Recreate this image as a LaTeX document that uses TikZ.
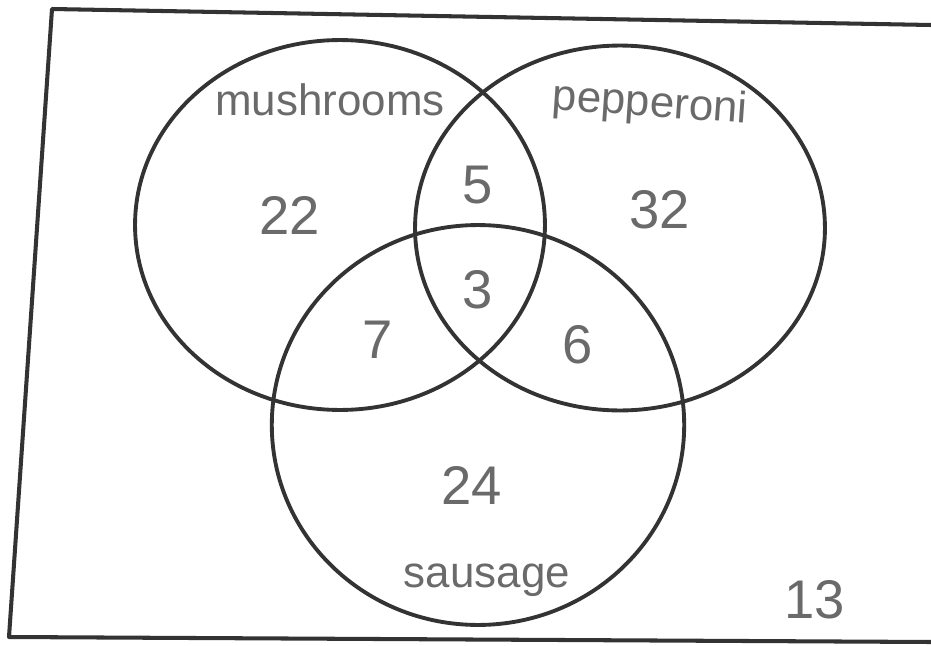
\documentclass[tikz,border=0pt]{standalone}
\usepackage{fontspec}
\setmainfont{Liberation Sans}
\usepackage{tikz}
\usetikzlibrary{shapes.geometric}
\definecolor{penInk}{HTML}{333333}
\definecolor{pencilGray}{HTML}{6A6A6A}
\tikzset{
    set_ring/.style={
        ellipse, draw=penInk, line width=2.2pt, inner sep=0pt, fill=none
    },
    set_name/.style={
        font=\fontsize{25}{27}\selectfont, text=pencilGray, inner sep=0pt
    },
    count_lbl/.style={
        font=\fontsize{31}{33}\selectfont, text=pencilGray, inner sep=0pt
    }
}
\begin{document}
\begin{tikzpicture}[x=0.02cm, y=-0.02cm]
    \useasboundingbox (0,0) rectangle (931,646);

    % frame
    \draw[penInk, line width=2.3pt, line join=round] (931,25) -- (52,9) -- (9,637) -- (931,642);

    % sets
    \node[set_ring, minimum width=8.2cm, minimum height=7.4cm] (mush) at (340,225) {};
    \node[set_ring, minimum width=8.2cm, minimum height=7.3cm] (pepp) at (620,228) {};
    \node[set_ring, minimum width=8.25cm, minimum height=8.0cm] (saus) at (478,425) {};

    % names
    \node[set_name] (mush_name) at (330,100) {mushrooms};
    \node[set_name, rotate=-4] (pepp_name) at (650,105) {pepperoni};
    \node[set_name] (saus_name) at (487,580) {sausage};

    % counts
    \node[count_lbl] (only_m) at (290,215) {22};
    \node[count_lbl] (m_p) at (478,185) {5};
    \node[count_lbl] (only_p) at (660,210) {32};
    \node[count_lbl] (all_three) at (478,290) {3};
    \node[count_lbl] (m_s) at (378,340) {7};
    \node[count_lbl] (p_s) at (578,345) {6};
    \node[count_lbl] (only_s) at (472,485) {24};
    \node[count_lbl] (none) at (815,600) {13};
\end{tikzpicture}
\end{document}
